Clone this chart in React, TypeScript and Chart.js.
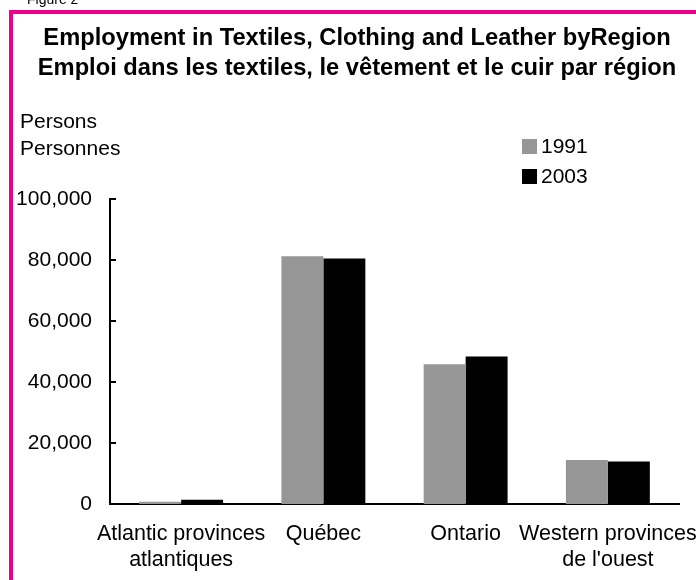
import React, { useEffect, useRef } from "react";
import { Chart, registerables } from "chart.js";
Chart.register(...registerables);

const categories: string[][] = [
  ["Atlantic provinces", "atlantiques"],
  ["Québec"],
  ["Ontario"],
  ["Western provinces", "de l'ouest"],
];
const seriesLabels = ["1991", "2003"];
const values1991 = [750, 81200, 45800, 14400];
const values2003 = [1400, 80500, 48400, 13900];
const yTicks = [0, 20000, 40000, 60000, 80000, 100000];
const titleLines = [
  "Employment in Textiles, Clothing and Leather byRegion",
  "Emploi dans les textiles, le vêtement et le cuir par région",
];
const yUnitLines = ["Persons", "Personnes"];
const figureLabel = "Figure 2";

const FONT = 'Arial, "Liberation Sans", sans-serif';
const PINK = "#EC008C";
const GRAY = "#969696";

const decorPlugin = {
  id: "decor",
  beforeDraw(chart: any) {
    const ctx = chart.ctx;
    ctx.save();
    ctx.fillStyle = "#ffffff";
    ctx.fillRect(0, 0, chart.width, chart.height);
    ctx.restore();
  },
  afterDraw(chart: any) {
    const ctx = chart.ctx;
    const y = chart.scales.y;
    const area = chart.chartArea;
    ctx.save();
    // frame
    ctx.strokeStyle = PINK;
    ctx.lineWidth = 4;
    ctx.strokeRect(11, 12, 720, 620);
    // figure label
    ctx.fillStyle = "#000";
    ctx.font = `14px ${FONT}`;
    ctx.textAlign = "left";
    ctx.textBaseline = "alphabetic";
    ctx.fillText(figureLabel, 27, 4);
    // title
    ctx.font = `bold 23.7px ${FONT}`;
    ctx.textAlign = "center";
    titleLines.forEach((t, i) => ctx.fillText(t, 357, 45 + i * 30));
    // unit label
    ctx.font = `21px ${FONT}`;
    ctx.textAlign = "left";
    yUnitLines.forEach((t, i) => ctx.fillText(t, 20, 128 + i * 27));
    // legend
    chart.data.datasets.forEach((ds: any, i: number) => {
      const top = 139 + i * 30;
      ctx.fillStyle = ds.backgroundColor;
      ctx.fillRect(522, top, 15, 15);
      ctx.fillStyle = "#000";
      ctx.textBaseline = "middle";
      ctx.fillText(ds.label, 541, top + 8);
    });
    // inside tick marks on y axis
    ctx.strokeStyle = "#000";
    ctx.lineWidth = 2;
    y.ticks.forEach((t: any) => {
      const py = Math.round(y.getPixelForValue(t.value));
      ctx.beginPath();
      ctx.moveTo(area.left, py);
      ctx.lineTo(area.left + 6, py);
      ctx.stroke();
    });
    ctx.restore();
  },
};

export default function App() {
  const ref = useRef<HTMLCanvasElement>(null);
  useEffect(() => {
    if (!ref.current) return;
    const chart = new Chart(ref.current, {
      type: "bar",
      data: {
        labels: categories as any,
        datasets: [
          { label: seriesLabels[0], data: values1991, backgroundColor: GRAY, barPercentage: 1, categoryPercentage: 0.59 },
          { label: seriesLabels[1], data: values2003, backgroundColor: "#000000", barPercentage: 1, categoryPercentage: 0.59 },
        ],
      },
      options: {
        responsive: false,
        animation: false,
        layout: { padding: { left: 0, right: 17, top: 199, bottom: 0 } },
        plugins: { legend: { display: false }, title: { display: false }, tooltip: { enabled: false } },
        scales: {
          x: {
            grid: { display: false, drawTicks: false },
            border: { display: true, color: "#000", width: 2 },
            ticks: {
              color: "#000",
              font: { size: 21.5, family: FONT, lineHeight: 1.22 },
              padding: 17,
              maxRotation: 0,
              minRotation: 0,
              autoSkip: false,
            },
            afterFit: (s: any) => { s.height = 76; s.paddingLeft = 0; s.paddingRight = 0; },
          },
          y: {
            min: 0,
            max: 100000,
            grid: { display: false, drawTicks: false },
            border: { display: true, color: "#000", width: 2 },
            afterBuildTicks: (s: any) => { s.ticks = yTicks.map((v) => ({ value: v })); },
            ticks: {
              color: "#000",
              font: { size: 21, family: FONT },
              padding: 18,
              callback: (v: any) => Number(v).toLocaleString("en-US"),
            },
            afterFit: (s: any) => { s.width = 110; s.paddingTop = 0; s.paddingBottom = 0; },
          },
        },
      },
      plugins: [decorPlugin],
    });
    return () => chart.destroy();
  }, []);
  return (
    <div style={{ position: "absolute", left: 0, top: 0, width: 696, height: 580 }}>
      <canvas ref={ref} width={696} height={580} style={{ display: "block" }} />
    </div>
  );
}
